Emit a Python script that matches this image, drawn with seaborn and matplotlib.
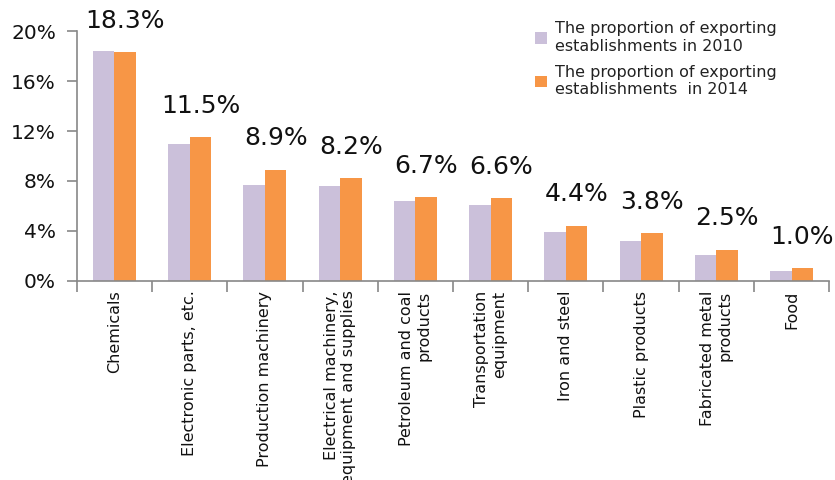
import matplotlib
matplotlib.use("Agg")
import matplotlib.pyplot as plt
import seaborn as sns
import pandas as pd
import numpy as np
from matplotlib.ticker import FixedLocator, FuncFormatter

categories = ["Chemicals", "Electronic parts, etc.", "Production machinery",
              "Electrical machinery,\nequipment and supplies", "Petroleum and coal\nproducts",
              "Transportation\nequipment", "Iron and steel", "Plastic products",
              "Fabricated metal\nproducts", "Food"]
values_2010 = [18.4, 11.0, 7.7, 7.6, 6.4, 6.1, 3.9, 3.2, 2.1, 0.8]
values_2014 = [18.3, 11.5, 8.9, 8.2, 6.7, 6.6, 4.4, 3.8, 2.5, 1.0]
series_names = ["The proportion of exporting\nestablishments in 2010",
                "The proportion of exporting\nestablishments  in 2014"]
yticks = [0, 4, 8, 12, 16, 20]

df = pd.DataFrame({
    "category": categories * 2,
    "value": values_2010 + values_2014,
    "series": [series_names[0]] * len(categories) + [series_names[1]] * len(categories),
})

sns.set_style("white")
plt.rcParams['font.family'] = ['DejaVu Sans']

fig = plt.figure(figsize=(8.35, 4.8), dpi=100)
ax = fig.add_axes([0.092, 0.415, 0.901, 0.52])

palette = {series_names[0]: "#CBC0DA", series_names[1]: "#F79646"}
sns.barplot(data=df, x="category", y="value", hue="series", palette=palette,
            width=0.57, ax=ax, saturation=1, legend=True, order=categories,
            hue_order=series_names, linewidth=0, edgecolor="none")

ax.set_ylim(0, 20)
ax.set_xlim(-0.5, len(categories) - 0.5)
ax.set_yticks(yticks)
ax.yaxis.set_major_formatter(FuncFormatter(lambda v, p: f"{int(v)}%"))
ax.tick_params(axis='y', labelsize=14.5, length=7, color="#888888", width=1.2, pad=8,
               left=True, labelcolor="#111111")
ax.set_xlabel("")
ax.set_ylabel("")

# x ticks: labels at centers (no marks), marks at category boundaries
ax.set_xticks(range(len(categories)))
ax.set_xticklabels(categories, rotation=90, fontsize=11.5, ha='center', va='top',
                   multialignment='right', color="#111111")
ax.tick_params(axis='x', which='major', length=0, pad=7)
ax.xaxis.set_minor_locator(FixedLocator(np.arange(-0.5, len(categories), 1.0)))
ax.tick_params(axis='x', which='minor', length=8, color="#888888", width=1.2,
               direction='out', bottom=True)

for s in ["top", "right"]:
    ax.spines[s].set_visible(False)
for s in ["left", "bottom"]:
    ax.spines[s].set_color("#888888")
    ax.spines[s].set_linewidth(1.2)

# labels above the 2014 bars
cont2014 = ax.containers[1]
for bar, v in zip(cont2014, values_2014):
    ax.annotate(f"{v:.1f}%", (bar.get_x() + bar.get_width() / 2, bar.get_height()),
                xytext=(0, 14), textcoords="offset points", ha='center', va='bottom',
                fontsize=18, color="#111111")

leg = ax.legend(loc='upper left', bbox_to_anchor=(0.6, 1.065), frameon=False,
                fontsize=11.5, handlelength=0.75, handleheight=0.75, handletextpad=0.5,
                labelspacing=0.7, borderaxespad=0)
for t in leg.get_texts():
    t.set_color("#222222")

fig.savefig("out.png", dpi=100)
